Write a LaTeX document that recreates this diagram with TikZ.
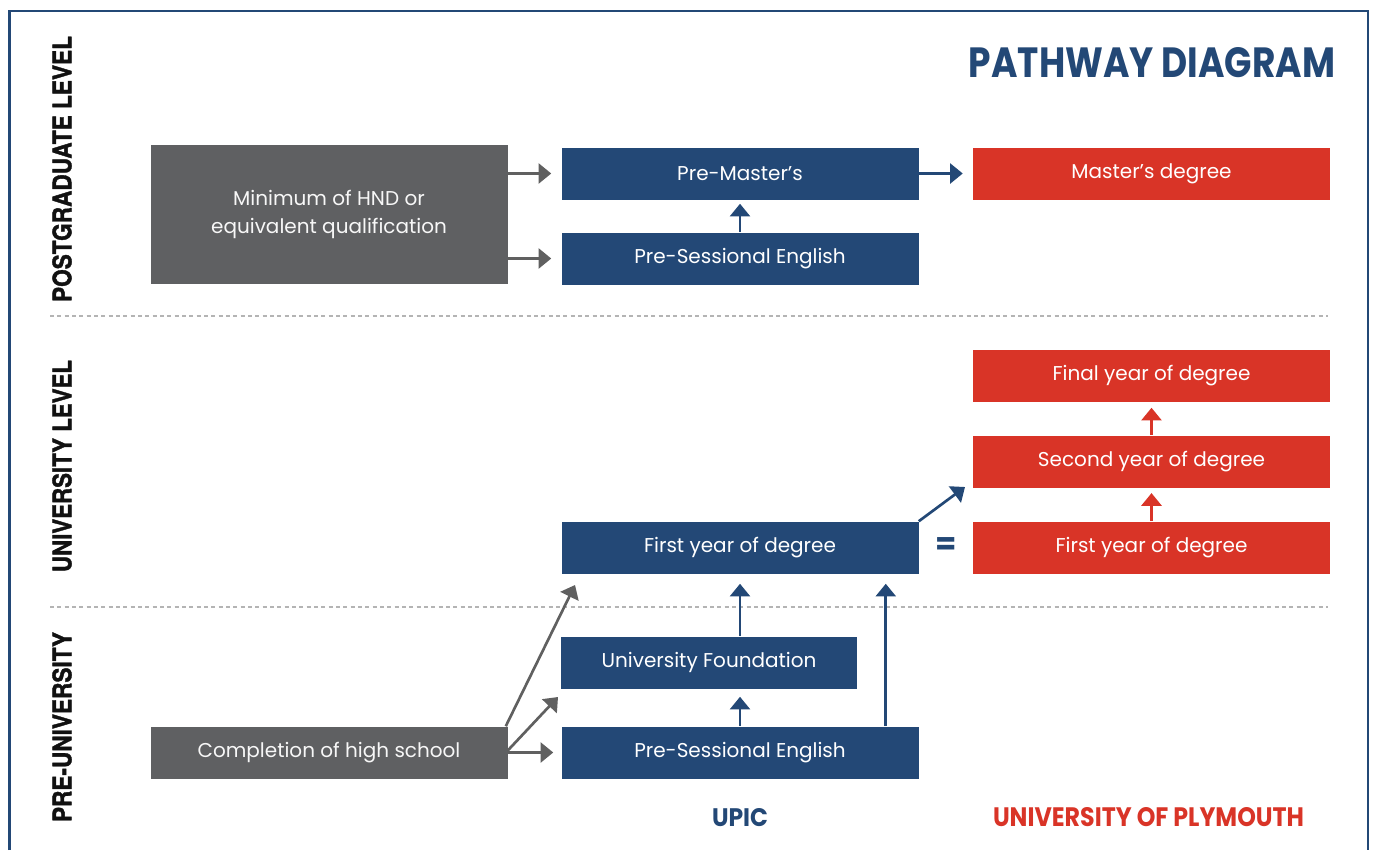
\documentclass[tikz,border=0pt]{standalone}
\usepackage{fontspec}
\usepackage{graphicx}
\setmainfont{Poppins}
\newfontfamily\heavyfont[BoldFeatures={FakeBold=1.6}]{TeX Gyre Heros}
\usetikzlibrary{arrows.meta}
\definecolor{upicblue}{HTML}{234876}
\definecolor{plyred}{HTML}{D93427}
\definecolor{boxgray}{HTML}{5F6062}
\definecolor{arrgray}{HTML}{606060}
\definecolor{dashgray}{HTML}{B4B4B4}
\definecolor{labelblack}{HTML}{111111}
\tikzset{
  pbox/.style={inner sep=0pt, minimum height=39pt, minimum width=267.75pt,
    text=white, font=\fontsize{15}{21}\selectfont, align=center},
  bluebox/.style={pbox, fill=upicblue},
  redbox/.style={pbox, fill=plyred},
  graybox/.style={pbox, fill=boxgray, text=white!94!gray},
  conn/.style={line width=2pt, -{Triangle[width=15pt,length=9.5pt]}},
  gconn/.style={conn, draw=arrgray, fill=arrgray},
  bconn/.style={conn, draw=upicblue, fill=upicblue},
  rconn/.style={conn, draw=plyred, fill=plyred},
  sidelabel/.style={rotate=90, inner sep=0pt, text=labelblack},
  divider/.style={draw=dashgray, line width=0.9pt, dash pattern=on 3pt off 2.5pt},
  frameline/.style={draw=upicblue, line width=2pt},
}
\begin{document}
\begin{tikzpicture}[x=0.75pt, y=-0.75pt]
\fill[white] (0,0) rectangle (1373,850);
\useasboundingbox (0,0) rectangle (1373,850);
% frame
\draw[frameline] (9.5,850) -- (9.5,11) -- (1368,11) -- (1368,850);
% title
\node[inner sep=0pt, text=upicblue] (title) at (1152,63)
  {\resizebox{274.5pt}{22.5pt}{\bfseries PATHWAY DIAGRAM}};
% side labels
\node[sidelabel] (lpg) at (62,169) {\resizebox{199.5pt}{14.25pt}{\heavyfont\bfseries POSTGRADUATE LEVEL}};
\node[sidelabel] (lul) at (62,466) {\resizebox{159pt}{14.25pt}{\heavyfont\bfseries UNIVERSITY LEVEL}};
\node[sidelabel] (lpu) at (62,727) {\resizebox{142.5pt}{14.25pt}{\heavyfont\bfseries PRE-UNIVERSITY}};
% dividers
\draw[divider] (50,316) -- (1328,316);
\draw[divider] (50,607) -- (1328,607);
% boxes
\node[graybox, minimum height=104.25pt] (hnd) at (329,214.5) {Minimum of HND or\\equivalent qualification};
\node[bluebox] (pm) at (740,173.5) {Pre-Master’s};
\node[bluebox] (pse1) at (740,258.5) {Pre-Sessional English};
\node[redbox] (md) at (1151.5,173.5) {Master’s degree};
\node[redbox] (fy) at (1151.5,375.5) {Final year of degree};
\node[redbox] (sy) at (1151.5,461.5) {Second year of degree};
\node[redbox] (ry1) at (1151.5,547.5) {First year of degree};
\node[bluebox] (by1) at (740,547.5) {First year of degree};
\node[bluebox, minimum width=222pt] (uf) at (709,662.5) {University Foundation};
\node[bluebox] (pse2) at (740,752.5) {Pre-Sessional English};
\node[graybox] (hs) at (329,752.5) {Completion of high school};
\node[text=upicblue, font=\bfseries\fontsize{23}{23}\selectfont, inner sep=0pt] (eq) at (946,546) {=};
% bottom labels
\node[inner sep=0pt, text=upicblue] (lupic) at (740,818) {\resizebox{42pt}{13.5pt}{\bfseries UPIC}};
\node[inner sep=0pt, text=plyred] (lply) at (1148.5,817.5) {\resizebox{233.25pt}{14.25pt}{\bfseries UNIVERSITY OF PLYMOUTH}};
% coordinates for free ends
\coordinate (t1) at (965,487);
\coordinate (t2) at (575,585);
\coordinate (t3) at (558,697);
% connectors
\draw[gconn, shorten >=7.5pt] (hnd.east |- pm.west) -- (pm.west);
\draw[gconn, shorten >=7.5pt] (hnd.east |- pse1.west) -- (pse1.west);
\draw[bconn, shorten >=7.5pt] (pm.east) -- (md.west);
\draw[bconn, shorten >=3pt] (pse1.north) -- (pm.south);
\draw[rconn, shorten >=4.5pt] (sy.north) -- (fy.south);
\draw[rconn, shorten >=4pt] (ry1.north) -- (sy.south);
\draw[bconn] (by1.north east) -- (t1);
\draw[gconn] ([xshift=-1.5pt]hs.north east) -- (t2);
\draw[gconn] ([yshift=1.5pt]hs.east) -- (t3);
\draw[gconn, shorten >=6pt] (hs.east) -- (pse2.west);
\draw[bconn, shorten >=6pt] (pse2.north) -- (pse2.north |- uf.south);
\draw[bconn, shorten >=7.5pt] (pse2.north |- uf.north) -- (by1.south);
\draw[bconn, shorten >=7.5pt] ([xshift=-24.75pt]pse2.north east) -- ([xshift=-24.75pt]by1.south east);
\end{tikzpicture}
\end{document}
